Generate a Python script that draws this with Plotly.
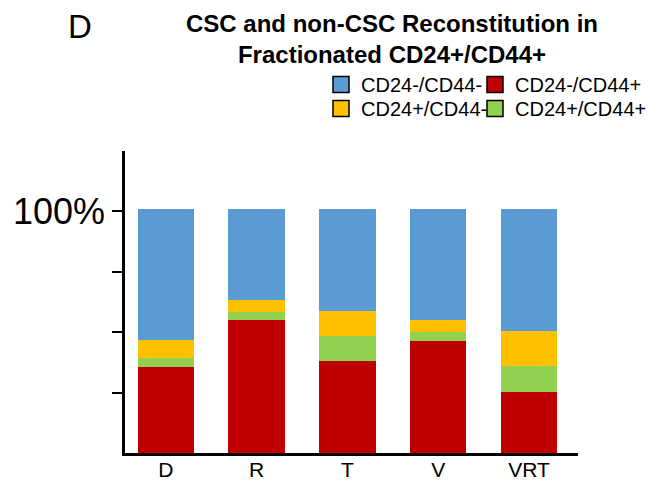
import plotly.graph_objects as go

categories = ["D", "R", "T", "V", "VRT"]
red_vals = [35.5, 55.0, 38.0, 46.3, 25.2]      # CD24-/CD44+
green_vals = [3.7, 3.3, 10.3, 3.7, 10.8]       # CD24+/CD44+
yellow_vals = [7.4, 4.9, 10.4, 5.0, 14.4]      # CD24+/CD44-
blue_vals = [54.5, 38.0, 42.5, 46.2, 50.8]     # CD24-/CD44-

tick_vals = [25, 50, 75, 100]
tick_text = ["", "", "", "100%"]

c_blue, c_red, c_yellow, c_green = "#5B9BD5", "#C00000", "#FFC000", "#92D050"

fig = go.Figure()
for vals, col, name in [(red_vals, c_red, "CD24-/CD44+"),
                        (green_vals, c_green, "CD24+/CD44+"),
                        (yellow_vals, c_yellow, "CD24+/CD44-"),
                        (blue_vals, c_blue, "CD24-/CD44-")]:
    fig.add_trace(go.Bar(x=categories, y=vals, marker=dict(color=col, line=dict(width=0)),
                         width=0.62, name=name, showlegend=False))

legend_font = dict(family="Liberation Sans, Arial", size=20, color="black")
legend_items = [("CD24-/CD44-", c_blue, "legend"),
                ("CD24-/CD44+", c_red, "legend2"),
                ("CD24+/CD44-", c_yellow, "legend3"),
                ("CD24+/CD44+", c_green, "legend4")]
for name, col, lg in legend_items:
    fig.add_trace(go.Scatter(x=[None], y=[None], mode="markers", name=name, legend=lg,
                             marker=dict(symbol="square", size=16, color=col,
                                         line=dict(color="black", width=1.5))))

def lgd(x, y):
    return dict(x=x, y=y, xanchor="left", yanchor="top", xref="paper", yref="paper",
                bgcolor="rgba(0,0,0,0)", borderwidth=0, font=legend_font,
                orientation="h", itemwidth=30)

PW, PH, L, T = 453.0, 302.0, 125.0, 151.0
def px(xp):
    return (xp - L) / PW
def py(yp):
    return 1 + (T - yp) / PH

fig.update_layout(
    width=649, height=484,
    margin=dict(l=125, r=71, t=151, b=31, autoexpand=False),
    paper_bgcolor="white", plot_bgcolor="white",
    barmode="stack",
    font=dict(family="Liberation Sans, Arial", color="black"),
    title=dict(text="<b>CSC and non-CSC Reconstitution in<br>Fractionated CD24+/CD44+</b>",
               x=px(392), xref="paper", xanchor="center",
               y=1 - 32 / 484, yref="container", yanchor="top",
               font=dict(size=24, family="Liberation Sans, Arial", color="black")),
    legend=lgd(px(321), py(65)),
    legend2=lgd(px(475), py(65)),
    legend3=lgd(px(321), py(89)),
    legend4=lgd(px(475), py(89)),
    xaxis=dict(range=[-0.45, 4.54], showline=True, linecolor="black", linewidth=2.5,
               ticks="", showgrid=False, zeroline=False, ticklabelstandoff=-4,
               tickfont=dict(size=21, family="Liberation Sans, Arial", color="black")),
    yaxis=dict(range=[0, 125], showline=True, linecolor="black", linewidth=2.5,
               tickvals=tick_vals, ticktext=tick_text, ticks="outside", ticklen=10,
               tickwidth=2, tickcolor="black", showgrid=False, zeroline=False,
               tickfont=dict(size=36, family="Liberation Sans, Arial", color="black")),
    annotations=[dict(text="D", x=px(80), y=py(26), xref="paper", yref="paper",
                      xanchor="center", yanchor="middle", showarrow=False,
                      font=dict(size=33, color="black"))],
)

fig.write_html("out.html", config={"displayModeBar": False},
               post_script="document.body.style.margin='0';")
